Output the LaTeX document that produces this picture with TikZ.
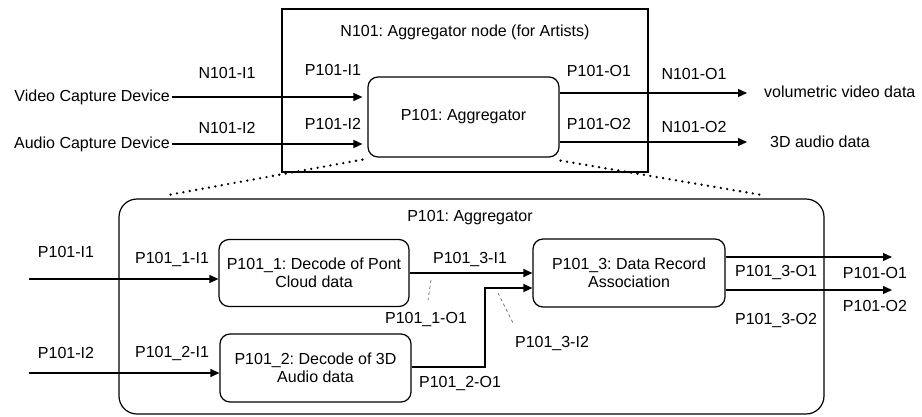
\documentclass[tikz,border=0pt]{standalone}
\usepackage{fontspec}
\setmainfont{Liberation Sans}
\usetikzlibrary{arrows.meta}
\usetikzlibrary{positioning}
\tikzset{
    frame/.style = {draw,line width=1.2pt,inner sep=0},
    proc/.style = {draw,line width=1.2pt,rounded corners=10pt,align=center,inner sep=0},
    txt/.style = {inner sep=0},
    flow/.style = {line width=1.2pt,-{Triangle[length=9pt,width=8pt]}},
    zoomline/.style = {line width=2.6pt,dash pattern=on 0pt off 6.5pt,line cap=round},
    tag/.style = {dashed,line width=0.6pt,black!70}
}

\begin{document}
\begin{tikzpicture}[x=1pt,y=-1pt,font=\fontsize{16}{18.5}\selectfont\frenchspacing]
        \useasboundingbox (0,0) rectangle (922,416);
        % Node and processes
        \path node[frame,minimum width=366pt,minimum height=163pt] at (465,90.5) (node) {}
            node[txt] at (465,32) (nodetitle) {N101: Aggregator node (for Artists)}
            node[proc,minimum width=191pt,minimum height=80pt] at (463.5,117) (agg) {P101: Aggregator}
            node[proc,rounded corners=18pt,minimum width=705pt,minimum height=215pt] at (471.5,306.5) (big) {}
            node[txt] at (470,218) (bigtitle) {P101: Aggregator}
            node[proc,minimum width=190pt,minimum height=67pt] at (314,273) (dec1) {P101\_1: Decode of Pont\\Cloud data}
            node[proc,minimum width=191pt,minimum height=68pt] at (315.5,368) (dec2) {P101\_2: Decode of 3D\\Audio data}
            node[proc,minimum width=192pt,minimum height=68pt] at (629,273) (rec) {P101\_3: Data Record\\Association}
        ;
        % Sources and sinks
        \path node[txt,anchor=east] at (170,97) (video) {Video Capture Device}
            node[txt,anchor=east] at (170,144) (audio) {Audio Capture Device}
            node[txt,anchor=west] at (764,92) (vol) {volumetric video data}
            node[txt,anchor=west] at (770,142) (snd) {3D audio data}
        ;
        % Free ends
        \path (747,93) coordinate (volend)
            (747,142) coordinate (sndend)
            (29,279) coordinate (in1)
            (29,373) coordinate (in2)
            (892,257) coordinate (out1)
            (892,290) coordinate (out2)
            (485,367) coordinate (bend)
        ;
        % Port labels
        \foreach \name/\x/\y/\text in {
            ni1/227/73/N101-I1, ni2/227/128/N101-I2,
            pi1/333/70/P101-I1, pi2/333/124/P101-I2,
            po1/599/71/P101-O1, po2/599/124/P101-O2,
            no1/694/74/N101-O1, no2/694/127/N101-O2,
            bi1/66/252/P101-I1, bi2/66/353/P101-I2,
            ai1/172/259/P101\_1-I1, bi21/172/353/P101\_2-I1,
            ri1/470/259/P101\_3-I1, ao1/426/319/P101\_1-O1,
            ri2/552/343/P101\_3-I2, bo1/460/383/P101\_2-O1,
            ro1/776/272/P101\_3-O1, ro2/776/320/P101\_3-O2,
            bo11/875/273/P101-O1, bo12/875/306/P101-O2}
            \path node[txt] at (\x,\y) (\name) {\text};
        % Flows
        \draw[flow,shorten <=2pt,shorten >=5pt] (video.east) -- (video.east -| agg.west);
        \draw[flow,shorten <=2pt,shorten >=5pt] (audio.east) -- (audio.east -| agg.west);
        \draw[flow] ([yshift=24pt]agg.east) -- (volend);
        \draw[flow] ([yshift=-25pt]agg.east) -- (sndend);
        \draw[flow] (in1) -- (in1 -| dec1.west);
        \draw[flow] (in2) -- (in2 -| dec2.west);
        \draw[flow] (dec1.east) -- (rec.west);
        \draw[flow] (dec2.east |- bend) -- (bend) |- ([yshift=-15pt]rec.west);
        \draw[flow] (rec.east |- out1) -- (out1);
        \draw[flow] (rec.east |- out2) -- (out2);
        % Zoom
        \draw[zoomline] ([shift={(-5pt,-2pt)}]agg.south west) -- (168,195);
        \draw[zoomline] ([shift={(1pt,-3pt)}]agg.south east) -- (762,195);
        % Tags
        \draw[tag] (431,280) -- (428,300);
        \draw[tag] (498,293) -- (513,323);
    \end{tikzpicture}
\end{document}
